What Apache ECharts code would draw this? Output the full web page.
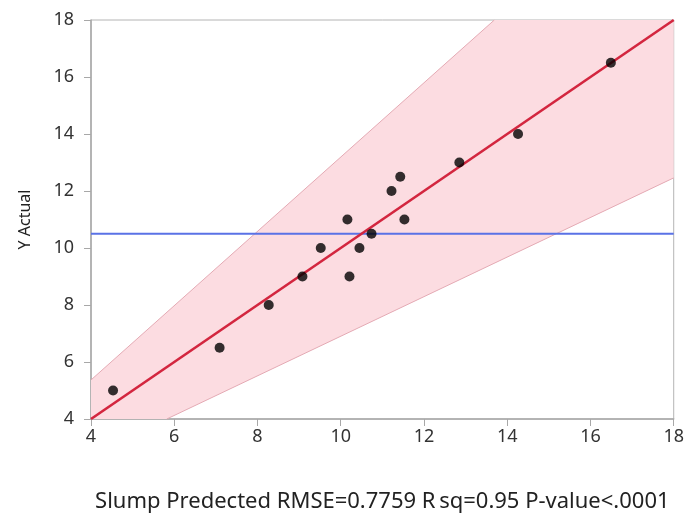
<!DOCTYPE html>
<html>
<head>
<meta charset="utf-8">
<script src="https://cdn.jsdelivr.net/npm/echarts@6/dist/echarts.min.js"></script>
<style>html,body{margin:0;padding:0;background:#fff;}#c{width:687px;height:518px;}</style>
</head>
<body>
<div id="c"></div>
<script>
var xTicks = [4, 6, 8, 10, 12, 14, 16, 18];
var yTicks = [4, 6, 8, 10, 12, 14, 16, 18];
var slumpPredicted = [4.53, 7.09, 8.27, 9.08, 9.52, 10.16, 10.21, 10.45, 10.74, 11.22, 11.43, 11.53, 12.85, 14.26, 16.49];
var yActual = [5.0, 6.5, 8.0, 9.0, 10.0, 11.0, 9.0, 10.0, 10.5, 12.0, 12.5, 11.0, 13.0, 14.0, 16.5];
var fitX = [4, 18];
var fitY = [4, 18];
var meanY = 10.5;
var upperBandX = [4, 13.69, 18];
var upperBandY = [5.37, 18, 18];
var lowerBandX = [18, 5.82, 4];
var lowerBandY = [12.46, 4, 4];
var xTitle = 'Slump Predected RMSE=0.7759 R\u2009sq=0.95 P-value<.0001';
var yTitle = 'Y Actual';

function zip(a, b) { return a.map(function (v, i) { return [v, b[i]]; }); }
var bandPoly = zip(upperBandX, upperBandY).concat(zip(lowerBandX, lowerBandY));
var upperEdge = zip(upperBandX, upperBandY).slice(0, 2);
var lowerEdge = zip(lowerBandX, lowerBandY).slice(0, 2);

var font = '"Noto Sans", "Open Sans", sans-serif';
var chart = echarts.init(document.getElementById('c'));
chart.setOption({
  animation: false,
  grid: { left: 91, right: 12, top: 20, bottom: 99, show: true, borderColor: '#b4b4b4', borderWidth: 1, backgroundColor: 'transparent' },
  xAxis: {
    type: 'value', min: xTicks[0], max: xTicks[xTicks.length - 1], interval: 2,
    name: xTitle, nameLocation: 'middle', nameGap: 72,
    nameTextStyle: { fontFamily: font, fontSize: 22, color: '#222' },
    axisLine: { show: true, lineStyle: { color: '#a8a8a8', width: 1.5 } },
    axisTick: { show: true, length: 7, lineStyle: { color: '#a8a8a8' } },
    axisLabel: { fontFamily: font, fontSize: 18, color: '#333', margin: 9 },
    splitLine: { show: false }
  },
  yAxis: {
    type: 'value', min: yTicks[0], max: yTicks[yTicks.length - 1], interval: 2,
    name: yTitle, nameLocation: 'middle', nameGap: 58, nameRotate: 90,
    nameTextStyle: { fontFamily: font, fontSize: 16, color: '#222' },
    axisLine: { show: true, lineStyle: { color: '#a8a8a8', width: 1.5 } },
    axisTick: { show: true, length: 7, lineStyle: { color: '#a8a8a8' } },
    axisLabel: { fontFamily: font, fontSize: 18, color: '#333', margin: 17 },
    splitLine: { show: false }
  },
  series: [
    {
      type: 'custom', silent: true, z: 1,
      data: [0],
      renderItem: function (params, api) {
        var pts = bandPoly.map(function (p) { return api.coord(p); });
        return { type: 'polygon', shape: { points: pts }, style: { fill: '#fcdce1', stroke: null } };
      },
      clip: true
    },
    { type: 'line', data: upperEdge, symbol: 'none', lineStyle: { color: '#e4aab4', width: 1 }, z: 2, silent: true },
    { type: 'line', data: lowerEdge, symbol: 'none', lineStyle: { color: '#e4aab4', width: 1 }, z: 2, silent: true },
    { type: 'line', data: [[xTicks[0], meanY], [xTicks[xTicks.length - 1], meanY]], symbol: 'none', lineStyle: { color: '#5a72e6', width: 2.2 }, z: 3, silent: true },
    { type: 'line', data: zip(fitX, fitY), symbol: 'none', lineStyle: { color: '#d3263f', width: 2.6 }, z: 4, silent: true },
    { type: 'scatter', data: zip(slumpPredicted, yActual), symbol: 'circle', symbolSize: 10, itemStyle: { color: '#000' }, z: 5 }
  ]
});
</script>
</body>
</html>
